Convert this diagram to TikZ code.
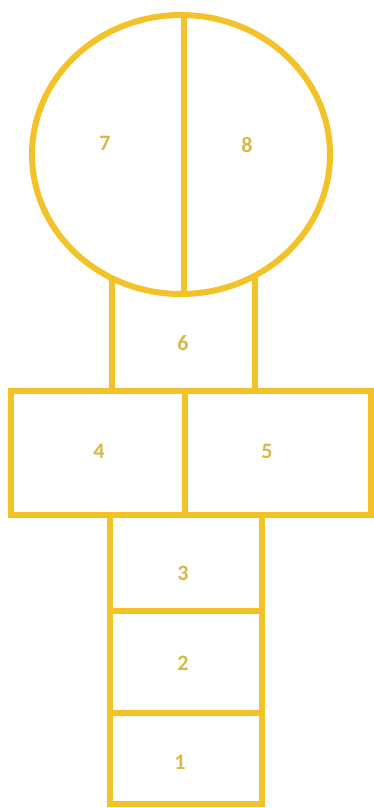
\documentclass[tikz,border=0pt]{standalone}
\usepackage{fontspec}
\setmainfont{Carlito}
\definecolor{gold}{RGB}{242,194,40}
\definecolor{numtxt}{RGB}{215,185,70}
\begin{document}
\begin{tikzpicture}[x=1pt,y=-1pt,
  line/.style={draw=gold,line width=6pt},
  num/.style={text=numtxt,font=\bfseries\fontsize{22}{22}\selectfont,inner sep=0pt}]
\useasboundingbox[fill=white] (0,0) rectangle (374,808);
% circle with divider
\draw[line] (181,154.5) ellipse [x radius=149,y radius=139.5];
\draw[line] (184,15) -- (184,292);
% box 6
\draw[line] (112,278) -- (112,391) -- (255,391) -- (255,275.5);
% boxes 4 and 5
\draw[line] (11,391) rectangle (371,515);
\draw[line] (185,391) -- (185,515);
% column 3,2,1
\draw[line] (110,515) rectangle (262,804);
\draw[line] (110,611) -- (262,611);
\draw[line] (110,713) -- (262,713);
% labels
\node[num] (n7) at (105,143) {7};
\node[num] (n8) at (247,145) {8};
\node[num] (n6) at (183,343) {6};
\node[num] (n4) at (99,451) {4};
\node[num] (n5) at (267,451) {5};
\node[num] (n3) at (183,573) {3};
\node[num] (n2) at (183,663) {2};
\node[num] (n1) at (180,762) {1};
\end{tikzpicture}
\end{document}
